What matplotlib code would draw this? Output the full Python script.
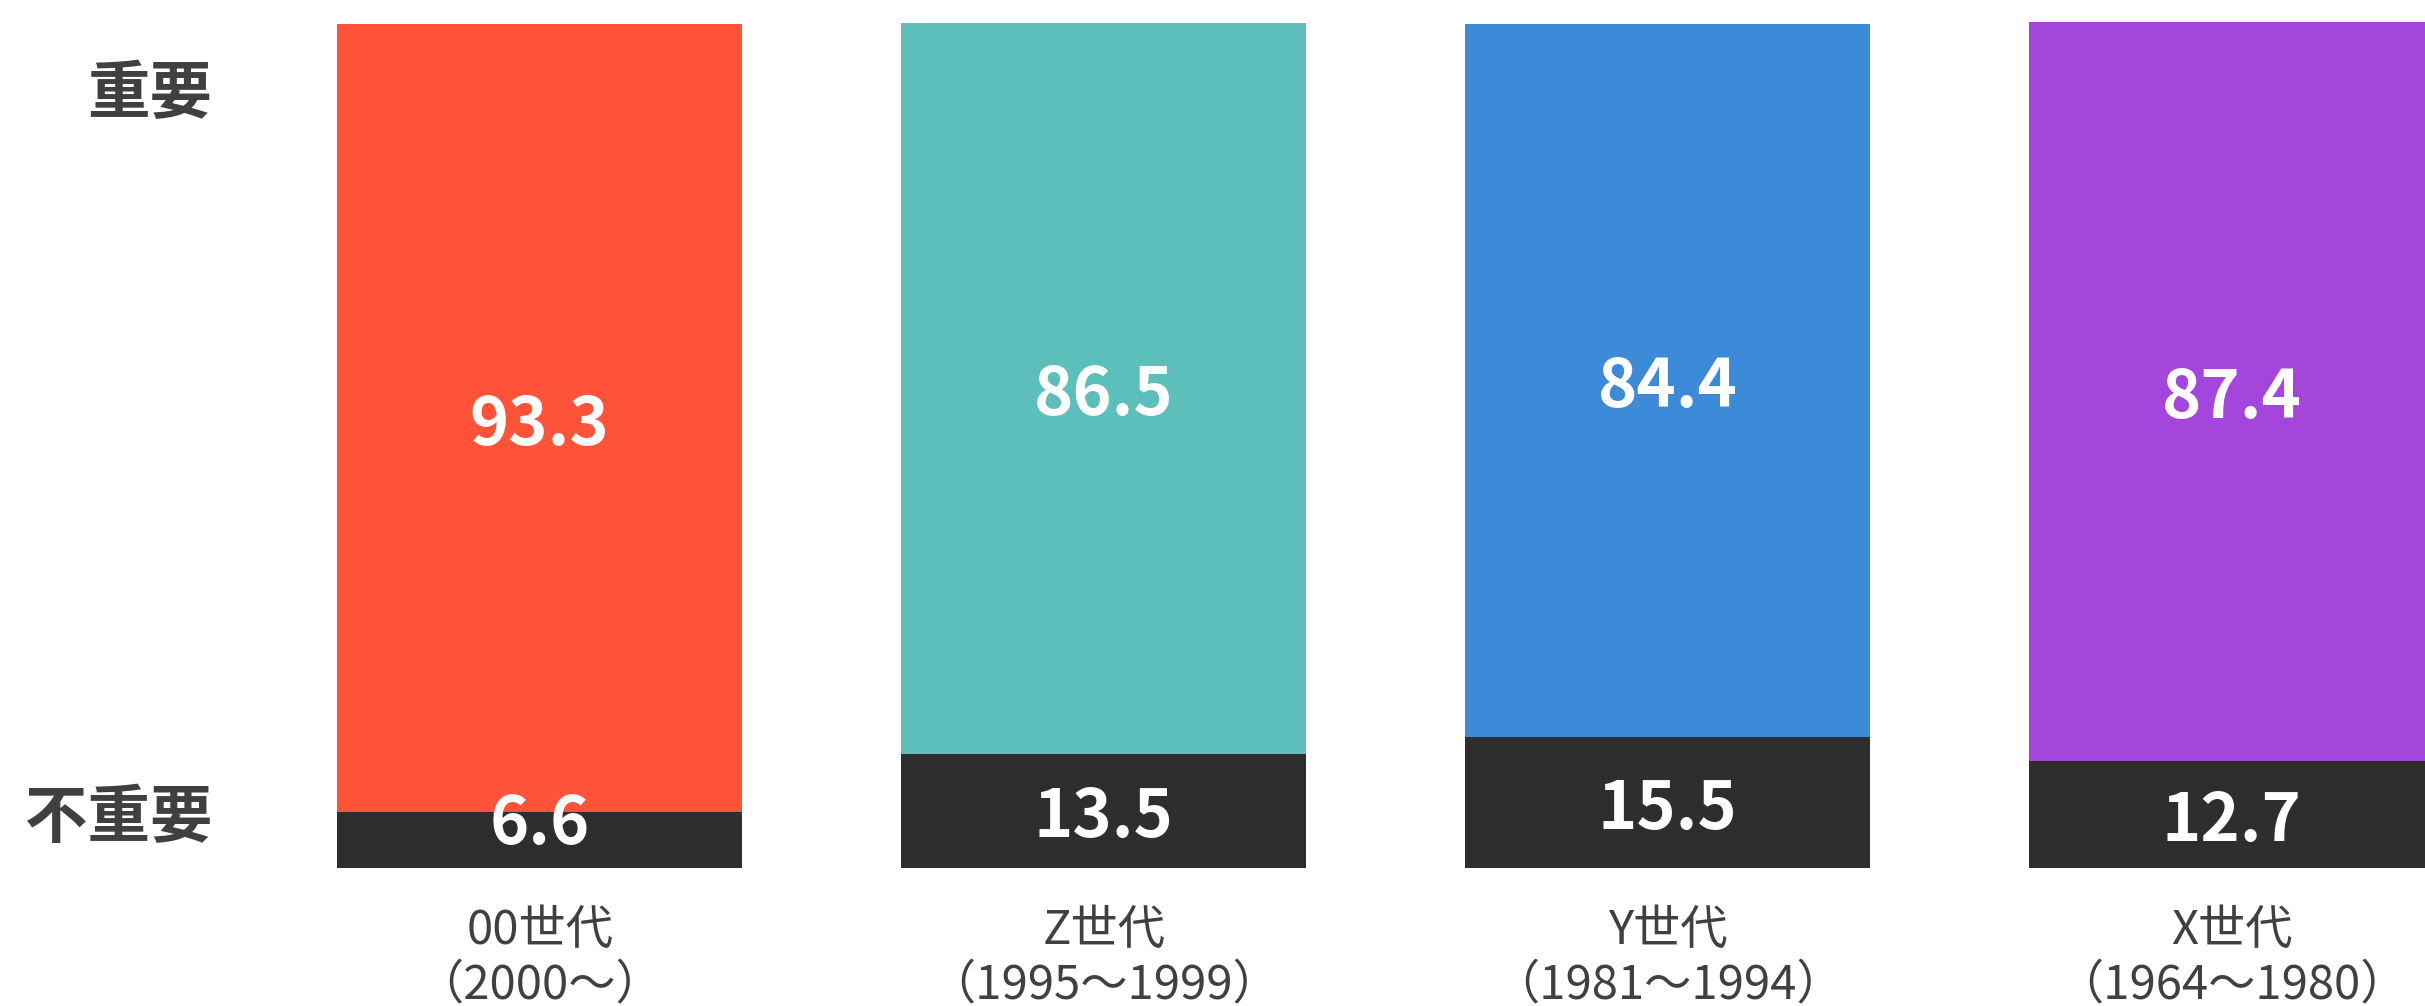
import matplotlib.pyplot as plt

plt.rcParams['font.family'] = ['Noto Sans CJK SC', 'DejaVu Sans']

# 数据
generations = ['00世代', 'Z世代', 'Y世代', 'X世代']
years = ['（2000～）', '（1995～1999）', '（1981～1994）', '（1964～1980）']
important = [93.3, 86.5, 84.4, 87.4]
not_important = [6.6, 13.5, 15.5, 12.7]
bar_colors = ['#FF5339', '#5DBFBB', '#3D8AD8', '#A445DB']
dark = '#2E2E2E'
text_gray = '#404040'

fig = plt.figure(figsize=(24.25, 10.06), dpi=100)
ax = fig.add_axes([0, 0, 1, 1])
ax.set_xlim(-0.957, 3.343)
ax.set_ylim(-16.33, 102.72)
ax.axis('off')

x = list(range(len(generations)))
ax.bar(x, not_important, width=0.718, color=dark)
ax.bar(x, important, bottom=not_important, width=0.718, color=bar_colors)

for i in x:
    # 重要
    ax.text(i, not_important[i] + important[i] / 2, f'{important[i]:.1f}',
            ha='center', va='center_baseline', color='white',
            fontsize=48, fontweight='bold')
    # 不重要 (小的段落标签往上挪一点)
    ax.text(i, max(not_important[i] / 2, 6.0), f'{not_important[i]:.1f}',
            ha='center', va='center_baseline', color='white',
            fontsize=48, fontweight='bold')
    ax.text(i, -6.75, generations[i], ha='center', va='center_baseline',
            color=text_gray, fontsize=34)
    ax.text(i, -13.2, years[i], ha='center', va='center_baseline',
            color=text_gray, fontsize=34)

ax.text(-0.581, 92.3, '重要', ha='right', va='center_baseline',
        color=text_gray, fontsize=45, fontweight='bold')
ax.text(-0.581, 6.6, '不重要', ha='right', va='center_baseline',
        color=text_gray, fontsize=45, fontweight='bold')

fig.savefig('out.png', dpi=100, facecolor='white')
